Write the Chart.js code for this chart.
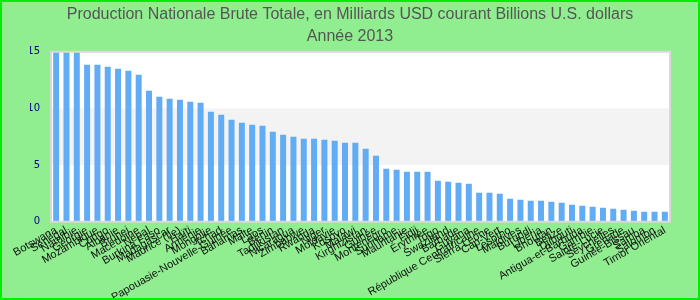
<!DOCTYPE html>
<html>
<head>
<meta charset="utf-8">
<script src="https://cdn.jsdelivr.net/npm/chart.js@4"></script>
<style>
  html, body { margin: 0; padding: 0; background: #90ee90; }
  #wrap { width: 700px; height: 300px; }
</style>
</head>
<body>
<div id="wrap"><canvas id="pnbChart"></canvas></div>
<script>
const titleLines = ['Production Nationale Brute Totale, en Milliards USD courant Billions U.S. dollars', 'Année 2013'];

const countries = [
  'Botswana', 'Sénégal', 'Namibie', 'Géorgie', 'Mozambique', 'Congo', 'Albanie', 'Brunei',
  'Macédoine', 'Népal', 'Burkina Faso', 'Madagascar', 'Maurice (île)', 'Haïti', 'Arménie',
  'Mongolie', 'Tchad', 'Papouasie-Nouvelle-Guinée', 'Bahamas', 'Malte', 'Laos', 'Bénin',
  'Tadjikistan', 'Nicaragua', 'Zimbabwe', 'Rwanda', 'Niger', 'Moldavie', 'Kosovo', 'Malawi',
  'Kirghizistan', 'Guinée', 'Monténégro', 'Suriname', 'Mauritanie', 'Fidji', 'Érythrée', 'Togo',
  'Swaziland', 'Barbade', 'Guyana', 'République Centrafricaine', 'Sierra Leone', 'Cap-Vert',
  'Lesotho', 'Maldives', 'Burundi', 'Libéria', 'Bhoutan', 'Belize', 'Djibouti',
  'Antigua-et-Barbuda', 'Gambie', 'Sainte-Lucie', 'Seychelles', 'Grenade', 'Guinée-Bissau',
  'Samoa', 'Salomon', 'Timor Oriental'
];

const pnbValues = [
  15.8, 15.5, 15.1, 13.86, 13.86, 13.68, 13.5, 13.33, 12.97, 11.56,
  11.03, 10.86, 10.77, 10.59, 10.5, 9.71, 9.44, 9.0, 8.74, 8.56,
  8.47, 7.94, 7.68, 7.5, 7.32, 7.32, 7.24, 7.15, 6.97, 6.97,
  6.44, 5.82, 4.68, 4.59, 4.41, 4.41, 4.41, 3.62, 3.53, 3.44,
  3.35, 2.56, 2.56, 2.47, 2.03, 1.94, 1.85, 1.85, 1.76, 1.68,
  1.5, 1.41, 1.32, 1.24, 1.15, 1.06, 0.97, 0.88, 0.88, 0.88
];

const yTicks = [0, 5, 10, 15];

// background, alternating band between 5 and 10, plot frame, outer green line
const framePlugin = {
  id: 'frame',
  beforeDraw(chart) {
    const { ctx, chartArea: a, scales } = chart;
    ctx.save();
    ctx.fillStyle = '#90ee90';
    ctx.fillRect(0, 0, chart.width, chart.height);
    ctx.fillStyle = '#ffffff';
    ctx.fillRect(a.left, a.top, a.right - a.left, a.bottom - a.top);
    const y5 = scales.y.getPixelForValue(yTicks[1]);
    const y10 = scales.y.getPixelForValue(yTicks[2]);
    ctx.fillStyle = '#f3f3f3';
    ctx.fillRect(a.left, y10, a.right - a.left, y5 - y10);
    ctx.restore();
  },
  afterDraw(chart) {
    const { ctx, chartArea: a } = chart;
    ctx.save();
    ctx.strokeStyle = '#d9d9d9';
    ctx.lineWidth = 2;
    ctx.strokeRect(a.left, a.top, a.right - a.left, a.bottom - a.top);
    ctx.strokeStyle = '#00ee00';
    ctx.strokeRect(1, 1, chart.width - 2, chart.height - 2);
    ctx.restore();
  }
};

new Chart(document.getElementById('pnbChart'), {
  type: 'bar',
  data: {
    labels: countries,
    datasets: [{
      data: pnbValues,
      backgroundColor: '#62abf5',
      barPercentage: 0.58,
      categoryPercentage: 1
    }]
  },
  options: {
    responsive: true,
    maintainAspectRatio: false,
    animation: false,
    layout: { padding: { left: 30, right: 30, top: 0, bottom: -6 } },
    plugins: {
      legend: { display: false },
      tooltip: { enabled: false },
      title: {
        display: true,
        text: titleLines,
        color: '#555555',
        font: { family: 'Liberation Sans, Arial, sans-serif', size: 16, weight: 'normal', lineHeight: 1.4 },
        padding: { top: 3, bottom: 4 }
      }
    },
    scales: {
      x: {
        grid: { display: false, drawTicks: false },
        border: { display: false },
        ticks: {
          autoSkip: false,
          minRotation: 30,
          maxRotation: 30,
          padding: 2,
          color: '#111111',
          font: { family: 'Liberation Sans, Arial, sans-serif', size: 11 }
        }
      },
      y: {
        min: 0,
        max: 15,
        grid: { display: false, drawTicks: false },
        border: { display: false },
        afterBuildTicks(scale) {
          scale.ticks = yTicks.map(v => ({ value: v }));
        },
        afterFit(scale) {
          scale.width = 21;
        },
        ticks: {
          padding: 11,
          color: '#00008b',
          font: { family: 'DejaVu Sans, sans-serif', size: 10 }
        }
      }
    }
  },
  plugins: [framePlugin]
});
</script>
</body>
</html>
